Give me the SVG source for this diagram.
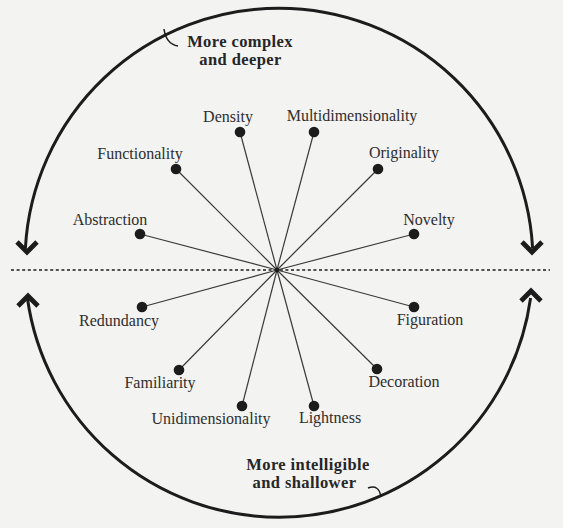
<svg xmlns="http://www.w3.org/2000/svg" width="563" height="528" viewBox="0 0 563 528">
<style>
.lbl{font-family:"Liberation Serif","Times New Roman",serif;font-size:16px;fill:#2e2e2e;text-anchor:middle}
.bold{font-family:"Liberation Serif","Times New Roman",serif;font-size:16.5px;letter-spacing:0.4px;font-weight:bold;fill:#262626;text-anchor:middle}
.dot{fill:#1c1c1c}
.spoke{stroke:#3a3a3a;stroke-width:1.2;fill:none}
.arc{stroke:#1c1c1c;stroke-width:3;fill:none}
.chev{stroke:#1c1c1c;stroke-width:4.8;fill:none;stroke-linejoin:miter;stroke-linecap:butt}
.hook{stroke:#1c1c1c;stroke-width:1.5;fill:none}
</style>
<rect width="563" height="528" fill="#f3f3f2"/>
<g id="frame">
<path class="arc" d="M25.4,248 A254,254 0 0 1 532.6,248"/>
<path class="arc" d="M27.4,298 A254,254 0 0 0 530.6,298"/>
<polyline class="chev" points="17,242 27,252 37,242"/>
<polyline class="chev" points="522,242 532,252 542,242"/>
<polyline class="chev" points="18,306 28,296 38,306"/>
<polyline class="chev" points="521,301 531,291 541,301"/>
<line x1="11" y1="270" x2="550" y2="270" stroke="#1c1c1c" stroke-width="1.3" stroke-dasharray="3,2.6"/>
<path class="hook" d="M164,29 Q166,44 178,46"/>
<path class="hook" d="M368,488 Q379,484 381,497"/>
</g>
<g id="caption-top">
<text class="bold" x="240" y="47">More complex</text>
<text class="bold" x="240.5" y="65">and deeper</text>
</g>
<g id="caption-bottom">
<text class="bold" x="308" y="470">More intelligible</text>
<text class="bold" x="304.5" y="488">and shallower</text>
</g>
<g id="connectors">
<line class="spoke" x1="277" y1="270" x2="240" y2="132"/>
<line class="spoke" x1="277" y1="270" x2="176" y2="169"/>
<line class="spoke" x1="277" y1="270" x2="140" y2="234"/>
<line class="spoke" x1="277" y1="270" x2="314" y2="132"/>
<line class="spoke" x1="277" y1="270" x2="378" y2="169"/>
<line class="spoke" x1="277" y1="270" x2="414" y2="234"/>
<line class="spoke" x1="277" y1="270" x2="142" y2="307"/>
<line class="spoke" x1="277" y1="270" x2="179" y2="370"/>
<line class="spoke" x1="277" y1="270" x2="242" y2="406"/>
<line class="spoke" x1="277" y1="270" x2="414" y2="307"/>
<line class="spoke" x1="277" y1="270" x2="377" y2="369"/>
<line class="spoke" x1="277" y1="270" x2="314" y2="406"/>
<circle cx="277" cy="270" r="2.2" fill="#1c1c1c"/>
</g>
<g id="density"><circle class="dot" cx="240" cy="132" r="5.3"/><text class="lbl" x="228" y="122">Density</text></g>
<g id="functionality"><circle class="dot" cx="176" cy="169" r="5.3"/><text class="lbl" x="140" y="159">Functionality</text></g>
<g id="abstraction"><circle class="dot" cx="140" cy="234" r="5.3"/><text class="lbl" x="110" y="225">Abstraction</text></g>
<g id="multidimensionality"><circle class="dot" cx="314" cy="132" r="5.3"/><text class="lbl" x="352" y="121">Multidimensionality</text></g>
<g id="originality"><circle class="dot" cx="378" cy="169" r="5.3"/><text class="lbl" x="404" y="158">Originality</text></g>
<g id="novelty"><circle class="dot" cx="414" cy="234" r="5.3"/><text class="lbl" x="429" y="225">Novelty</text></g>
<g id="redundancy"><circle class="dot" cx="142" cy="307" r="5.3"/><text class="lbl" x="119" y="326">Redundancy</text></g>
<g id="familiarity"><circle class="dot" cx="179" cy="370" r="5.3"/><text class="lbl" x="160" y="388">Familiarity</text></g>
<g id="unidimensionality"><circle class="dot" cx="242" cy="406" r="5.3"/><text class="lbl" x="211" y="424">Unidimensionality</text></g>
<g id="figuration"><circle class="dot" cx="414" cy="307" r="5.3"/><text class="lbl" x="430" y="325">Figuration</text></g>
<g id="decoration"><circle class="dot" cx="377" cy="369" r="5.3"/><text class="lbl" x="404" y="387">Decoration</text></g>
<g id="lightness"><circle class="dot" cx="314" cy="406" r="5.3"/><text class="lbl" x="330" y="423">Lightness</text></g>
</svg>
